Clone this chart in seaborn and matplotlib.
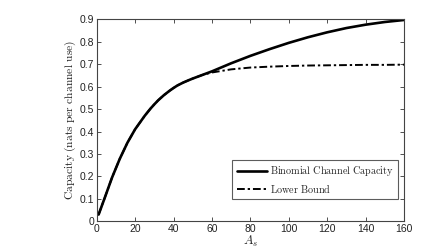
import numpy as np
import pandas as pd
import matplotlib
matplotlib.use("Agg")
import matplotlib.pyplot as plt
import seaborn as sns

# values
a_s = [1, 4, 8, 12, 16, 20, 25, 28, 30, 32, 35, 38, 40, 42, 45, 48, 50, 55,
       60, 70, 80, 90, 100, 110, 120, 130, 140, 150, 160]
capacity = [0.03, 0.10, 0.195, 0.278, 0.350, 0.410, 0.470, 0.502, 0.521,
            0.539, 0.562, 0.582, 0.594, 0.605, 0.618, 0.629, 0.636, 0.652,
            0.668, 0.704, 0.737, 0.767, 0.795, 0.820, 0.842, 0.861, 0.876,
            0.888, 0.897]
lower_bound = [0.03, 0.10, 0.195, 0.278, 0.350, 0.410, 0.470, 0.502, 0.521,
               0.539, 0.562, 0.582, 0.594, 0.605, 0.618, 0.629, 0.636, 0.652,
               0.663, 0.677, 0.685, 0.689, 0.692, 0.694, 0.695, 0.696,
               0.697, 0.697, 0.698]

x_ticks = [0, 20, 40, 60, 80, 100, 120, 140, 160]
y_ticks = [0, 0.1, 0.2, 0.3, 0.4, 0.5, 0.6, 0.7, 0.8, 0.9]

df = pd.DataFrame({"A_s": a_s, "capacity": capacity, "lower": lower_bound})

sns.set_style("ticks")
plt.rcParams["font.family"] = ["Liberation Sans", "DejaVu Sans"]
plt.rcParams["mathtext.fontset"] = "cm"

fig = plt.figure(figsize=(4.47, 2.5), dpi=100)
ax = fig.add_axes([0.2163, 0.1148, 0.6875, 0.808])

sns.lineplot(data=df, x="A_s", y="lower", ax=ax, color="black", lw=1.4,
             linestyle=(0, (4, 1.5, 1.2, 1.5)), label=r"$\mathrm{Lower\ Bound}$")
sns.lineplot(data=df, x="A_s", y="capacity", ax=ax, color="black", lw=1.9,
             label=r"$\mathrm{Binomial\ Channel\ Capacity}$")

ax.set_xlim(0, 160)
ax.set_ylim(0, 0.9)
ax.set_xticks(x_ticks)
ax.set_yticks(y_ticks)
ax.set_yticklabels([f"{v:g}" for v in y_ticks])
ax.tick_params(direction="in", top=True, right=True, length=3, width=0.6,
               labelsize=7.5, colors="#333333", labelcolor="#222222", pad=2)
for s in ax.spines.values():
    s.set_color("#444444")
    s.set_linewidth(0.8)

ax.set_xlabel(r"$A_s$", fontsize=9, labelpad=0, color="#222222")
ax.set_ylabel(r"$\mathrm{Capacity\ (nats\ per\ channel\ use)}$", fontsize=8.3,
              labelpad=1, color="#222222")

handles, labels = ax.get_legend_handles_labels()
leg = ax.legend(handles[::-1], labels[::-1], loc="lower right",
                bbox_to_anchor=(0.98, 0.11), borderaxespad=0, fontsize=7.3,
                frameon=True, fancybox=False, edgecolor="#333333",
                handlelength=3.0, handletextpad=0.3, borderpad=0.4,
                labelspacing=0.35)
leg.get_frame().set_linewidth(0.8)

fig.savefig("out.png", dpi=100)
